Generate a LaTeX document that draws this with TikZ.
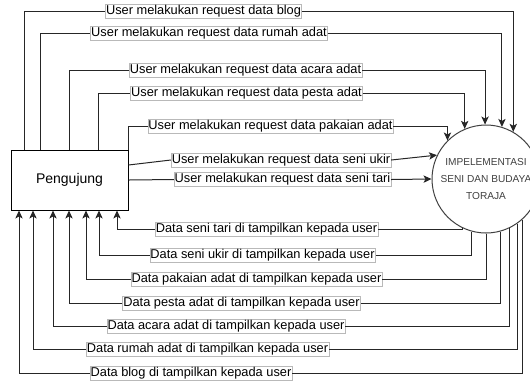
\documentclass[tikz,border=0pt]{standalone}
\usepackage{fontspec}
\setmainfont{Liberation Sans}
\usetikzlibrary{arrows.meta}

\begin{document}
\begin{tikzpicture}[x=0.75pt, y=-0.75pt,
    flow/.style={draw=black!85, line width=0.75pt},
    arr/.style={-{Stealth[length=6pt, width=5.5pt, inset=1.5pt]}},
    lbl/.style={draw=gray!55, line width=0.4pt, fill=white, inner xsep=0.5pt, inner ysep=0.8pt, font=\fontsize{9.6}{10}\selectfont},
    entity/.style={draw, line width=0.75pt, minimum width=87.75pt, minimum height=45pt, font=\fontsize{10.5}{12}\selectfont},
    process/.style={draw=black!75, circle, line width=0.75pt, minimum size=81pt, inner sep=0pt, align=center,
        text=black!75, font=\fontsize{7.6}{12.5}\selectfont}]
        \useasboundingbox (0,0) rectangle (530,380);

        \node[entity] (P) at (69.5,180) {Pengujung};
        \node[process] (S) at (486,179) {IMPELEMENTASI\\SENI DAN BUDAYA\\TORAJA};

        \node[lbl] (q1) at (203.5,11) {User melakukan request data blog};
        \node[lbl] (q2) at (209,33) {User melakukan request data rumah adat};
        \node[lbl] (q3) at (245.5,70) {User melakukan request data acara adat};
        \node[lbl] (q4) at (246.5,93) {User melakukan request data pesta adat};
        \node[lbl] (q5) at (270.5,126) {User melakukan request data pakaian adat};
        \node[lbl] (q6) at (281,160) {User melakukan request data seni ukir};
        \node[lbl] (q7) at (282.5,179.5) {User melakukan request data seni tari};

        \node[lbl] (r1) at (266.5,229) {Data seni tari di tampilkan kepada user};
        \node[lbl] (r2) at (262.5,255) {Data seni ukir di tampilkan kepada user};
        \node[lbl] (r3) at (256.5,279) {Data pakaian adat di tampilkan kepada user};
        \node[lbl] (r4) at (241.5,303) {Data pesta adat di tampilkan kepada user};
        \node[lbl] (r5) at (226,326) {Data acara adat di tampilkan kepada user};
        \node[lbl] (r6) at (207.5,349) {Data rumah adat di tampilkan kepada user};
        \node[lbl] (r7) at (191,373) {Data blog di tampilkan kepada user};

        \draw[flow] (P.north -| 24,0) |- (q1.west);
        \draw[flow, arr] (q1.east) -| (S.60);
        \draw[flow] (P.north -| 40,0) |- (q2.west);
        \draw[flow, arr] (q2.east) -| (S.73);
        \draw[flow] (P.north -| 69,0) |- (q3.west);
        \draw[flow, arr] (q3.east) -| (S.91);
        \draw[flow] (P.north -| 98,0) |- (q4.west);
        \draw[flow, arr] (q4.east) -| (S.113);
        \draw[flow] (P.north east) |- (q5.west);
        \draw[flow, arr] (q5.east) -| (S.135);
        \draw[flow] (P.east |- 0,165) -- (q6.west);
        \draw[flow, arr] (q6.east) -- (S.154);
        \draw[flow] (P.east |- 0,180) -- (q7.west);
        \draw[flow, arr] (q7.east) -- (S.west);

        \draw[flow] (S.245) |- (r1.east);
        \draw[flow, arr] (r1.west) -| (P.south -| 117,0);
        \draw[flow] (S.255) |- (r2.east);
        \draw[flow, arr] (r2.west) -| (P.south -| 99,0);
        \draw[flow] (S.270) |- (r3.east);
        \draw[flow, arr] (r3.west) -| (P.south -| 86,0);
        \draw[flow] (S.285) |- (r4.east);
        \draw[flow, arr] (r4.west) -| (P.south -| 69,0);
        \draw[flow] (S.296) |- (r5.east);
        \draw[flow, arr] (r5.west) -| (P.south -| 53,0);
        \draw[flow] (S.305) |- (r6.east);
        \draw[flow, arr] (r6.west) -| (P.south -| 33,0);
        \draw[flow] (S.312) |- (r7.east);
        \draw[flow, arr] (r7.west) -| (P.south -| 19,0);
    \end{tikzpicture}
\end{document}
